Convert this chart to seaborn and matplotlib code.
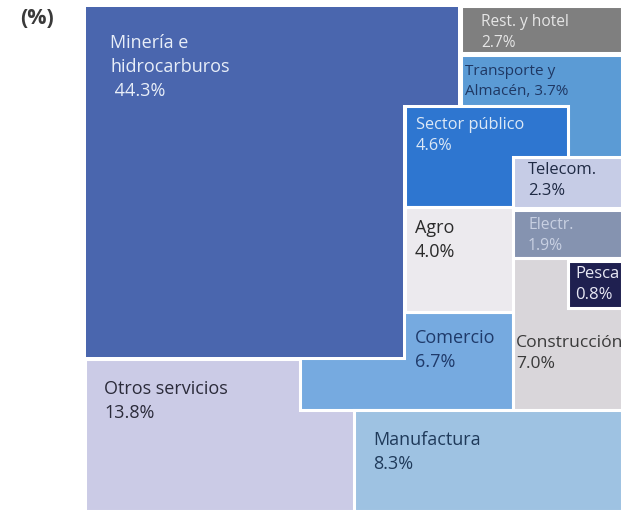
# Treemap de participación por sector (%)

import matplotlib.pyplot as plt
import matplotlib.patches as mpatches
import seaborn as sns

# --- Datos ---
sectores = ["Otros servicios", "Comercio", "Minería e\nhidrocarburos", "Rest. y hotel",
            "Transporte y\nAlmacén,", "Sector público", "Telecom.", "Agro", "Electr.",
            "Construcción", "Pesca", "Manufactura"]
valores = [13.8, 6.7, 44.3, 2.7, 3.7, 4.6, 2.3, 4.0, 1.9, 7.0, 0.8, 8.3]
colores = ["#CBCBE6", "#76AAE0", "#4A66AE", "#7F7F7F", "#5B9BD5", "#2E76D0", "#C6CCE6",
           "#ECEAEE", "#8593B0", "#D9D6DA", "#1F2050", "#9EC2E2"]
colores_texto = ["#2B2B3A", "#1F3A6A", "#E8EEF8", "#E6E6E6", "#1F3864", "#DCE8F6",
                 "#1F2A44", "#2B2B2B", "#C8D0E2", "#3A3A3A", "#E8E8F4", "#1F3A5A"]
tam_texto = [13, 13, 13, 11.2, 11, 11.8, 11.9, 13, 11.3, 12.6, 12, 13]

# --- Layout (píxeles de la imagen: x0, y0, x1, y1), en orden de dibujo ---
cajas = [
    [(85, 359, 355, 511)],
    [(300, 312, 513, 410)],
    [(85, 6, 404, 358), (85, 6, 459, 106)],
    [(461, 6, 622, 53)],
    [(461, 55, 622, 158)],
    [(405, 106, 568, 207)],
    [(513, 157, 622, 208)],
    [(405, 207, 513, 312)],
    [(513, 210, 622, 258)],
    [(513, 258, 622, 462)],
    [(568, 261, 622, 308)],
    [(354, 410, 622, 511)],
]
pos_texto = [(104, 380), (415, 329), (110, 34), (481, 14), (465, 64), (416, 117),
             (528, 162), (415, 219), (528, 217), (516, 335), (575, 266), (373, 431)]

sns.set_theme(style="white")
plt.rcParams["font.family"] = ["Open Sans", "DejaVu Sans"]

fig = plt.figure(figsize=(6.22, 5.11), dpi=100)
ax = fig.add_axes([0, 0, 1, 1])
ax.set_xlim(0, 622)
ax.set_ylim(511, 0)
ax.axis("off")

for nombre, v, c, ct, fs, rects, (tx, ty) in zip(sectores, valores, colores, colores_texto,
                                                 tam_texto, cajas, pos_texto):
    for (x0, y0, x1, y1) in rects:
        ax.add_patch(mpatches.Rectangle((x0, y0), x1 - x0, y1 - y0, facecolor=c,
                                        edgecolor="white", linewidth=2.2))
    if nombre.endswith(","):
        etiqueta = f"{nombre} {v:.1f}%"
    elif nombre.startswith("Minería"):
        etiqueta = f"{nombre}\n {v:.1f}%"
    else:
        etiqueta = f"{nombre}\n{v:.1f}%"
    ax.text(tx, ty, etiqueta, color=ct, fontsize=fs, ha="left", va="top",
            linespacing=1.42, zorder=5)

# Tapar la línea interna de Minería
ax.add_patch(mpatches.Rectangle((86, 7), 372, 98, facecolor=colores[2], edgecolor="none"))
ax.add_patch(mpatches.Rectangle((86, 7), 317, 350, facecolor=colores[2], edgecolor="none"))

ax.text(20, 19, "(%)", color="#3A3A3A", fontsize=15.5, fontweight="bold", ha="left", va="center")

plt.savefig("out.png", dpi=100)
plt.close()
